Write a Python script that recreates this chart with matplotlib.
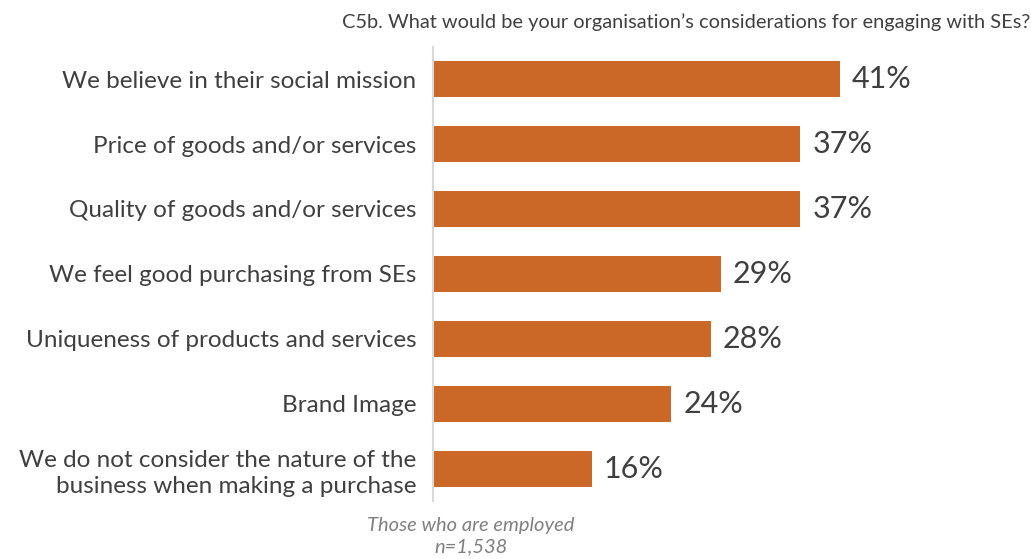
import matplotlib
matplotlib.use("Agg")
import matplotlib.pyplot as plt

plt.rcParams['font.family'] = ['Lato', 'DejaVu Sans']

categories = ["We believe in their social mission",
              "Price of goods and/or services",
              "Quality of goods and/or services",
              "We feel good purchasing from SEs",
              "Uniqueness of products and services",
              "Brand Image",
              "We do not consider the nature of the\nbusiness when making a purchase"]
values = [41, 37, 37, 29, 28, 24, 16]
labels = ["41%", "37%", "37%", "29%", "28%", "24%", "16%"]

fig = plt.figure(figsize=(10.31, 5.59), dpi=100)
ax = fig.add_axes([0.42, 0.1029, 0.55, 0.8139])

pos = range(len(categories))
ax.barh(pos, values, height=0.54, color="#CB6828")
ax.set_ylim(len(categories) - 0.5, -0.5)
ax.set_xlim(0, 57.1)
ax.set_yticks(list(pos))
ax.set_yticklabels(categories, fontsize=17.5, color="#404040", linespacing=1.3)
ax.tick_params(axis="y", length=0, pad=12)
ax.set_xticks([])

for s in ["top", "right", "bottom"]:
    ax.spines[s].set_visible(False)
ax.spines["left"].set_color("#d9d9d9")
ax.spines["left"].set_linewidth(1.5)

for i, v in enumerate(values):
    ax.text(v + 1.2, i, labels[i], va="center", ha="left", fontsize=22, color="#404040")

fig.text(0.999, 0.961, "C5b. What would be your organisation\u2019s considerations for engaging with SEs?",
         ha="right", va="center", fontsize=14.4, color="#404040")
fig.text(0.457, 0.041, "Those who are employed\nn=1,538", ha="center", va="center",
         fontsize=14.5, style="italic", color="#808080", linespacing=1.3)

fig.savefig("out.png", dpi=100)
